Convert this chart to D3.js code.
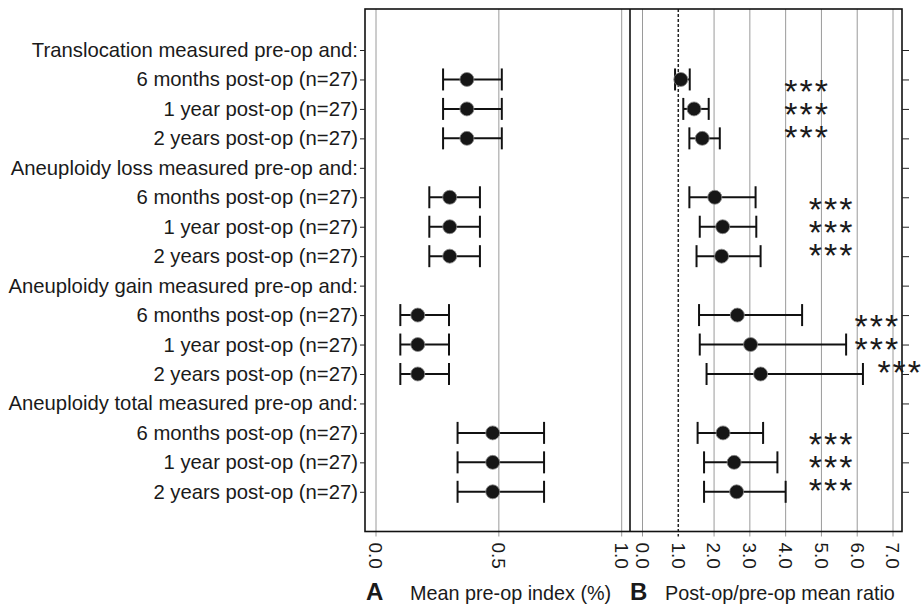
<!DOCTYPE html>
<meta charset="utf-8">
<style>
body { margin: 0; background: #fff; }
text { font-family: "Liberation Sans", Arial, sans-serif; fill: #1a1a1a; }
.grid { stroke: #9a9a9a; stroke-width: 1px; }
.frame { fill: none; stroke: #111; stroke-width: 1.6px; }
.bar { stroke: #111; stroke-width: 2px; fill: none; }
.dot { fill: #161616; stroke: #8a8a8a; stroke-width: 0.8px; }
</style>
<body>
<script src="https://cdn.jsdelivr.net/npm/d3@7"></script>
<script>

var width = 922,
    height = 605;

// rows, top to bottom
var groups = ["Translocation", "Aneuploidy loss", "Aneuploidy gain", "Aneuploidy total"];
var timepoints = ["6 months post-op (n=27)", "1 year post-op (n=27)", "2 years post-op (n=27)"];

// panel A: mean pre-op index (%) with interval, one per timepoint row
var preMean = [0.37, 0.37, 0.37, 0.30, 0.30, 0.30, 0.17, 0.17, 0.17, 0.475, 0.475, 0.475];
var preLow  = [0.273, 0.273, 0.273, 0.217, 0.217, 0.217, 0.099, 0.099, 0.099, 0.332, 0.332, 0.332];
var preHigh = [0.512, 0.512, 0.512, 0.423, 0.423, 0.423, 0.297, 0.297, 0.297, 0.684, 0.684, 0.684];

// panel B: post-op/pre-op mean ratio with interval
var ratioMean = [1.07, 1.44, 1.67, 2.02, 2.24, 2.21, 2.65, 3.02, 3.30, 2.25, 2.56, 2.63];
var ratioLow  = [0.91, 1.14, 1.31, 1.31, 1.60, 1.51, 1.58, 1.60, 1.79, 1.54, 1.72, 1.72];
var ratioHigh = [1.32, 1.85, 2.16, 3.16, 3.18, 3.30, 4.46, 5.69, 6.16, 3.37, 3.77, 4.00];
var signif = ["***", "***", "***", "***", "***", "***", "***", "***", "***", "***", "***", "***"];

var ticksA = [0, 0.5, 1.0];
var ticksB = [0, 1, 2, 3, 4, 5, 6, 7];

// build row list
var rows = [];
groups.forEach(function(g, gi) {
  rows.push({label: g + " measured pre-op and:", header: true});
  timepoints.forEach(function(t, ti) {
    var k = gi * 3 + ti;
    rows.push({label: t, k: k, gi: gi, ti: ti,
      pm: preMean[k], pl: preLow[k], ph: preHigh[k],
      rm: ratioMean[k], rl: ratioLow[k], rh: ratioHigh[k], sig: signif[k]});
  });
});

var plotTop = 9, plotBottom = 531.5,
    leftA = 365, divider = 630, rightB = 902;

var y = d3.scalePoint().domain(d3.range(rows.length)).range([50, 491.8]);
var xA = d3.scaleLinear().domain([0, 1]).range([376, 621.7]);
var xB = d3.scaleLinear().domain([0, 7]).range([642.5, 893]);

var svg = d3.select("body").append("svg")
    .attr("width", width)
    .attr("height", height);

// gridlines
svg.selectAll(".gA").data(ticksA).enter().append("line")
    .attr("class", "grid")
    .attr("x1", xA).attr("x2", xA)
    .attr("y1", plotTop).attr("y2", plotBottom + 5);

svg.selectAll(".gB").data(ticksB.filter(function(d) { return d !== 1; })).enter().append("line")
    .attr("class", "grid")
    .attr("x1", xB).attr("x2", xB)
    .attr("y1", plotTop).attr("y2", plotBottom + 5);

svg.append("line")
    .attr("x1", xB(1)).attr("x2", xB(1))
    .attr("y1", plotTop).attr("y2", plotBottom + 5)
    .attr("stroke", "#222").attr("stroke-width", 1.5)
    .attr("stroke-dasharray", "3,2");

// frame
svg.append("rect").attr("class", "frame")
    .attr("x", leftA).attr("y", plotTop)
    .attr("width", rightB - leftA).attr("height", plotBottom - plotTop);
svg.append("line").attr("class", "frame")
    .attr("x1", divider).attr("x2", divider).attr("y1", plotTop).attr("y2", plotBottom);

// row ticks and labels
var yAxisL = d3.axisLeft(y).tickSize(5).tickFormat(function(i) { return rows[i].label; });
var gL = svg.append("g").attr("transform", "translate(" + leftA + ",0)").call(yAxisL);
gL.select(".domain").remove();
gL.selectAll("line").attr("stroke", "#222");
gL.selectAll("text").attr("x", -7).attr("font-size", 20.3).attr("fill", "#1a1a1a")
    .attr("font-family", "Liberation Sans, Arial, sans-serif");

var yAxisR = d3.axisRight(y).tickSize(7).tickFormat("");
var gR = svg.append("g").attr("transform", "translate(" + rightB + ",0)").call(yAxisR);
gR.select(".domain").remove();
gR.selectAll("line").attr("stroke", "#222");

// rotated tick labels
function tickLabels(ticks, scale) {
  svg.selectAll(null).data(ticks).enter().append("text")
      .attr("transform", function(d) { return "translate(" + scale(d) + "," + (plotBottom + 11) + ") rotate(90)"; })
      .attr("dy", "0.35em")
      .attr("font-size", 19)
      .text(function(d) { return d3.format(".1f")(d); });
}
tickLabels(ticksA, xA);
tickLabels(ticksB, xB);

var data = rows.filter(function(r) { return !r.header; });
var capH = 11;

function drawBars(cls, scale, lo, hi, mid) {
  var g = svg.selectAll("." + cls).data(data).enter().append("g").attr("class", cls);
  g.append("line").attr("class", "bar")
      .attr("x1", function(d) { return scale(d[lo]); })
      .attr("x2", function(d) { return scale(d[hi]); })
      .attr("y1", function(d) { return y(rows.indexOf(d)); })
      .attr("y2", function(d) { return y(rows.indexOf(d)); });
  [lo, hi].forEach(function(key) {
    g.append("line").attr("class", "bar").attr("stroke-width", 2.5)
        .attr("x1", function(d) { return scale(d[key]); })
        .attr("x2", function(d) { return scale(d[key]); })
        .attr("y1", function(d) { return y(rows.indexOf(d)) - capH; })
        .attr("y2", function(d) { return y(rows.indexOf(d)) + capH; });
  });
  g.append("circle").attr("class", "dot")
      .attr("cx", function(d) { return scale(d[mid]); })
      .attr("cy", function(d) { return y(rows.indexOf(d)); })
      .attr("r", 7);
}
drawBars("ea", xA, "pl", "ph", "pm");
drawBars("eb", xB, "rl", "rh", "rm");

// significance stars, stacked beside each group
var starStart = [4.02, 4.7, 5.98, 4.7];
svg.selectAll(".sig").data(data).enter().append("text")
    .attr("class", "sig")
    .attr("x", function(d) {
      var s = starStart[d.gi];
      if (d.gi === 2 && d.ti === 2) s = 6.62;
      return xB(s) - 2;
    })
    .attr("y", function(d) {
      var midRow = rows.indexOf(d) - d.ti + 1;
      return y(midRow) + (d.ti - 1) * 23 - 2.5 + 19.3;
    })
    .attr("font-size", 34)
    .attr("letter-spacing", 2)
    .attr("fill", "#2a2a2a")
    .text(function(d) { return d.sig; });

// panel titles
svg.append("text").attr("x", 366).attr("y", 600).attr("font-size", 24).attr("font-weight", "bold").text("A");
svg.append("text").attr("x", 410).attr("y", 600).attr("font-size", 19.8).text("Mean pre-op index (%)");
svg.append("text").attr("x", 630).attr("y", 600).attr("font-size", 24).attr("font-weight", "bold").text("B");
svg.append("text").attr("x", 665).attr("y", 600).attr("font-size", 19.8).text("Post-op/pre-op mean ratio");

</script>
